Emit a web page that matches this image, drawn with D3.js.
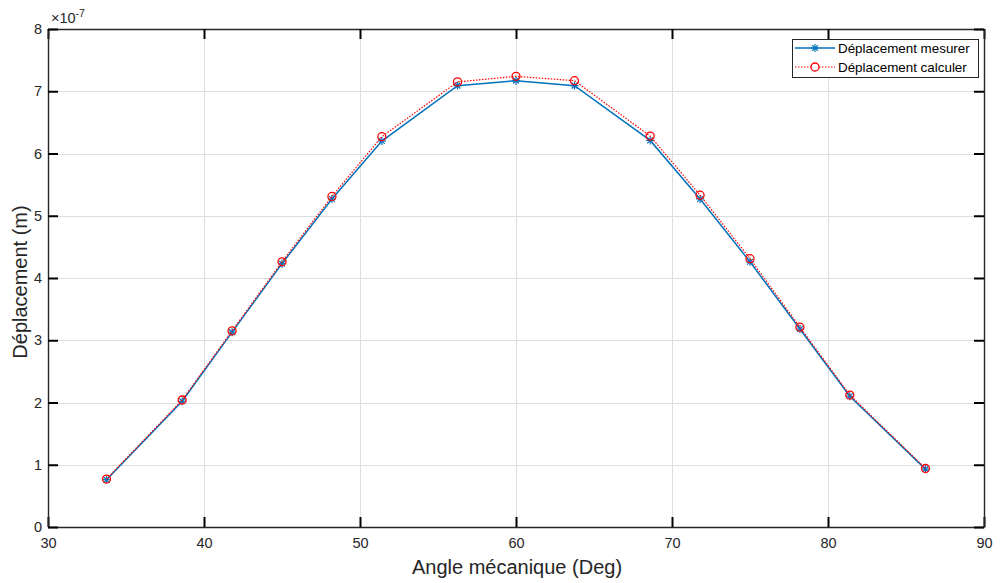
<!DOCTYPE html>
<html>
<head>
<meta charset="utf-8">
<script src="https://cdn.jsdelivr.net/npm/d3@7"></script>
<style>
  html, body { margin: 0; padding: 0; background: #fff; }
  svg { display: block; font-family: "Liberation Sans", Arial, Helvetica, sans-serif; }
</style>
</head>
<body>
<svg id="chart" width="1000" height="583"></svg>
<script>
// Mechanical angle (degrees)
const angles = [33.75, 38.6, 41.8, 45.0, 48.2, 51.4, 56.25, 60.0, 63.75, 68.6, 71.8, 75.0, 78.2, 81.4, 86.25];
// Measured displacement (m)
const measured = [0.76e-7, 2.02e-7, 3.13e-7, 4.23e-7, 5.27e-7, 6.20e-7, 7.09e-7, 7.17e-7, 7.09e-7, 6.21e-7, 5.27e-7, 4.26e-7, 3.18e-7, 2.10e-7, 0.93e-7];
// Computed displacement (m)
const computed = [0.77e-7, 2.04e-7, 3.15e-7, 4.26e-7, 5.31e-7, 6.27e-7, 7.15e-7, 7.24e-7, 7.17e-7, 6.28e-7, 5.33e-7, 4.31e-7, 3.21e-7, 2.12e-7, 0.94e-7];
const xTicks = [30, 40, 50, 60, 70, 80, 90];
const yTicks = [0, 1, 2, 3, 4, 5, 6, 7, 8];
const yExponent = -7;
const seriesNames = ["Déplacement mesurer", "Déplacement calculer"];

const svg = d3.select("#chart");
const pLeft = 48, pRight = 984, pTop = 29, pBottom = 527;

const x = d3.scaleLinear().domain([30, 90]).range([pLeft, pRight]);
const y = d3.scaleLinear().domain([0, 8e-7]).range([pBottom, pTop]);
const scale = Math.pow(10, yExponent);

const blue = "#0072BD", red = "#FF0000", axisColor = "#262626";

// grid
const grid = svg.append("g").attr("stroke", "#dedede").attr("stroke-width", 1);
grid.selectAll("line.gx").data(xTicks.slice(1, -1)).join("line")
  .attr("x1", d => Math.round(x(d)) + 0.5).attr("x2", d => Math.round(x(d)) + 0.5)
  .attr("y1", pTop).attr("y2", pBottom);
grid.selectAll("line.gy").data(yTicks.slice(1, -1)).join("line")
  .attr("y1", d => Math.round(y(d * scale)) + 0.5).attr("y2", d => Math.round(y(d * scale)) + 0.5)
  .attr("x1", pLeft).attr("x2", pRight);

// axes with inward ticks on all sides
const tickLen = 10;
const axB = d3.axisBottom(x).tickValues(xTicks).tickSizeInner(-tickLen).tickSizeOuter(0).tickPadding(11).tickFormat(d => d);
const axT = d3.axisTop(x).tickValues(xTicks).tickSizeInner(-tickLen).tickSizeOuter(0).tickFormat("");
const axL = d3.axisLeft(y).tickValues(yTicks.map(v => v * scale)).tickSizeInner(-tickLen).tickSizeOuter(0).tickPadding(6).tickFormat(v => Math.round(v / scale));
const axR = d3.axisRight(y).tickValues(yTicks.map(v => v * scale)).tickSizeInner(-tickLen).tickSizeOuter(0).tickFormat("");

function styleAxis(g) {
  g.select(".domain").attr("stroke", axisColor).attr("stroke-width", 1.4);
  g.selectAll(".tick line").attr("stroke", "#000").attr("stroke-width", 2);
  g.selectAll(".tick text").attr("fill", axisColor).attr("font-size", 14.5)
    .attr("font-family", "Liberation Sans, Arial, sans-serif");
}
svg.append("g").attr("transform", `translate(0,${pBottom})`).call(axB).call(styleAxis);
svg.append("g").attr("transform", `translate(0,${pTop})`).call(axT).call(styleAxis);
svg.append("g").attr("transform", `translate(${pLeft},0)`).call(axL).call(styleAxis);
svg.append("g").attr("transform", `translate(${pRight},0)`).call(axR).call(styleAxis);

// exponent label
const expo = svg.append("text").attr("x", pLeft + 3).attr("y", 23).attr("font-size", 14.5).attr("fill", axisColor);
expo.append("tspan").text("×10");
expo.append("tspan").attr("font-size", 10.5).attr("dy", -6).text(yExponent);

// axis titles
svg.append("text").attr("x", (pLeft + pRight) / 2 + 1).attr("y", 574).attr("text-anchor", "middle")
  .attr("font-size", 20).attr("fill", axisColor).text("Angle mécanique (Deg)");
svg.append("text").attr("transform", `translate(27,${(pTop + pBottom) / 2 + 4}) rotate(-90)`).attr("text-anchor", "middle")
  .attr("font-size", 20).attr("fill", axisColor).text("Déplacement (m)");

// series
const plot = svg.append("g");
const lineGen = d3.line().x(d => x(d[0])).y(d => y(d[1]));
const mData = angles.map((a, i) => [a, measured[i]]);
const cData = angles.map((a, i) => [a, computed[i]]);

function star(g, cx, cy, r, color) {
  const s = g.append("g").attr("stroke", color).attr("stroke-width", 1.2).attr("fill", "none");
  s.append("line").attr("x1", cx - r).attr("x2", cx + r).attr("y1", cy).attr("y2", cy);
  s.append("line").attr("x1", cx).attr("x2", cx).attr("y1", cy - r).attr("y2", cy + r);
  const k = r * 0.72;
  s.append("line").attr("x1", cx - k).attr("x2", cx + k).attr("y1", cy - k).attr("y2", cy + k);
  s.append("line").attr("x1", cx - k).attr("x2", cx + k).attr("y1", cy + k).attr("y2", cy - k);
}

plot.append("path").datum(mData).attr("d", lineGen).attr("fill", "none").attr("stroke", blue).attr("stroke-width", 1.5);
mData.forEach(d => star(plot, x(d[0]), y(d[1]), 4, blue));

plot.append("path").datum(cData).attr("d", lineGen).attr("fill", "none").attr("stroke", red)
  .attr("stroke-width", 1.2).attr("stroke-dasharray", "1.5,1.5");
plot.selectAll("circle.c").data(cData).join("circle")
  .attr("cx", d => x(d[0])).attr("cy", d => y(d[1])).attr("r", 4)
  .attr("fill", "none").attr("stroke", red).attr("stroke-width", 1.3);

// legend
const lg = svg.append("g");
const lx = 792, ly = 39, lw = 186, lh = 38;
lg.append("rect").attr("x", lx + 0.5).attr("y", ly + 0.5).attr("width", lw).attr("height", lh)
  .attr("fill", "#fff").attr("stroke", axisColor).attr("stroke-width", 1);
const rows = [
  { name: seriesNames[0], color: blue, dash: null, marker: "star" },
  { name: seriesNames[1], color: red, dash: "1.5,1.5", marker: "circle" }
];
rows.forEach((r, i) => {
  const cy = ly + 9 + i * 19;
  lg.append("line").attr("x1", lx + 3).attr("x2", lx + 43).attr("y1", cy).attr("y2", cy)
    .attr("stroke", r.color).attr("stroke-width", r.dash ? 1.2 : 1.5).attr("stroke-dasharray", r.dash);
  if (r.marker === "star") star(lg, lx + 23, cy, 4, r.color);
  else lg.append("circle").attr("cx", lx + 23).attr("cy", cy).attr("r", 4).attr("fill", "#fff").attr("stroke", r.color).attr("stroke-width", 1.3);
  lg.append("text").attr("x", lx + 46).attr("y", cy + 5).attr("font-size", 13.4).attr("fill", "#000").text(r.name);
});
</script>
</body>
</html>
